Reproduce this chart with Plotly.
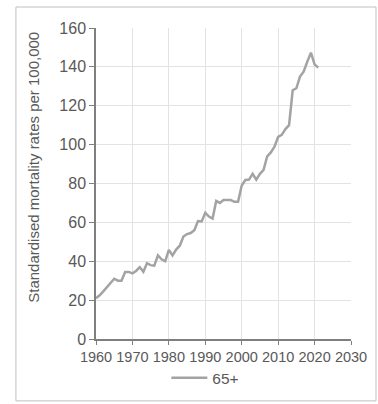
import plotly.graph_objects as go

years = list(range(1960, 2022))
rates_65plus = [
    21, 22.5, 24.5, 26.5, 28.5, 31, 30, 30, 34.5, 34.5,
    33.8, 35, 37, 34.6, 39, 38, 37.7, 43, 41, 40,
    45.8, 43, 46, 48, 52.7, 54, 54.5, 56, 60.7, 60.5,
    65, 63, 62, 71, 70, 71.5, 71.5, 71.5, 70.6, 70.6,
    79, 81.8, 82, 85, 82, 85, 87, 94, 96, 99,
    104, 105, 108, 110, 128, 129, 135, 137.5, 142.7, 147.3,
    141.3, 139.6,
]
x_ticks = [1960, 1970, 1980, 1990, 2000, 2010, 2020, 2030]
y_ticks = [0, 20, 40, 60, 80, 100, 120, 140, 160]
y_title = "Standardised mortality rates per 100,000"
series_name = "65+"

fig = go.Figure()
fig.add_trace(go.Scatter(
    x=years, y=rates_65plus, mode="lines", name=series_name,
    line=dict(color="#a3a3a3", width=2.5),
))

font_family = "Liberation Sans, Arial, sans-serif"
fig.update_layout(
    width=378, height=404,
    margin=dict(l=96, r=27, t=28, b=65, autoexpand=False),
    paper_bgcolor="white", plot_bgcolor="white",
    font=dict(family=font_family, color="#595959"),
    showlegend=True,
    legend=dict(orientation="h", xref="container", yref="container",
                x=0.44, xanchor="left", y=0.064, yanchor="middle",
                font=dict(size=15.5, color="#595959"), itemwidth=36,
                bgcolor="rgba(0,0,0,0)"),
    xaxis=dict(range=[1960, 2030], tickvals=x_ticks, ticktext=[str(t) for t in x_ticks],
               showgrid=True, gridcolor="#e3e3e3", gridwidth=1,
               showline=True, linecolor="#7f7f7f", linewidth=1.5,
               ticks="outside", ticklen=4, tickcolor="#7f7f7f",
               tickfont=dict(size=14.5, color="#595959"), zeroline=False),
    yaxis=dict(range=[0, 160], tickvals=y_ticks,
               showgrid=True, gridcolor="#e3e3e3", gridwidth=1,
               showline=True, linecolor="#7f7f7f", linewidth=1.5,
               ticks="outside", ticklen=5, tickcolor="#7f7f7f",
               tickfont=dict(size=16, color="#595959"), zeroline=False),
    annotations=[dict(text=y_title, textangle=-90, xref="paper", yref="paper",
                      x=-0.248, y=0.553, xanchor="center", yanchor="middle",
                      showarrow=False, font=dict(size=15, color="#595959"))],
    shapes=[dict(type="rect", xref="paper", yref="paper",
                 x0=-0.314, x1=1.098, y0=-0.199, y1=1.0675,
                 line=dict(color="#bfbfbf", width=1))],
)
fig.write_html("out.html", config={"displayModeBar": False},
               post_script="document.body.style.margin='0';document.body.style.overflow='hidden';")
